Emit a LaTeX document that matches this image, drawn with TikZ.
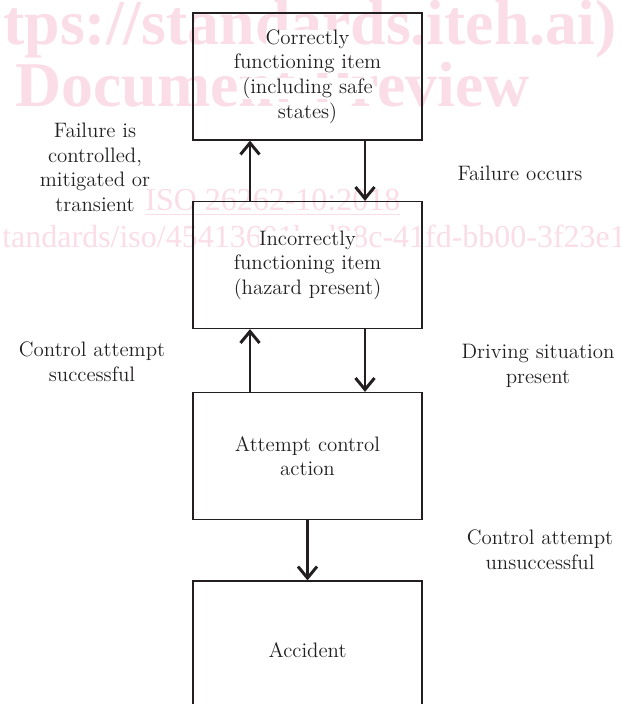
\documentclass[tikz,border=0pt]{standalone}
\usepackage{fontspec}
\usepackage{tikz}
\usetikzlibrary{arrows.meta,positioning}
\newfontfamily\wmfont{Liberation Serif}
\definecolor{wmpink}{HTML}{FADDE6}
\definecolor{ink}{HTML}{231F20}
\newcommand{\onwhite}[1]{{\fboxsep=0pt\colorbox{white}{#1}}}

\begin{document}
\begin{tikzpicture}[
 font=\fontsize{11.9}{14}\selectfont,
 stage/.style={draw=ink,line width=0.7pt,minimum width=4.58cm,minimum height=2.54cm,align=center,inner sep=0pt,text=ink},
 note/.style={align=center,text=ink},
 wmbig/.style={anchor=base west,inner sep=0pt,text=wmpink,font=\wmfont\bfseries\fontsize{36.3}{40}\selectfont},
 wmsmall/.style={anchor=base west,inner sep=0pt,text=wmpink,font=\wmfont\fontsize{18.2}{20}\selectfont},
 arr/.style={-{Straight Barb[length=2.3mm,width=3.8mm]},line width=1.7pt,draw=ink}
]
\clip (0,0) rectangle (12.42,14.08);

% preview watermark
\node[wmbig] (w1) at (0.06,13.18) {tps://standards.iteh.ai)};
\node[wmbig] (w2) at (0.30,11.94) {Document Preview};
\node[wmsmall] (w3) at (2.90,9.86) {\underline{ISO 26262-10:2018}};
\node[wmsmall] (w4) at (0.04,9.12) {tandards/iso/45413601b-d38c-41fd-bb00-3f23e12f};

% states
\node[stage] (s1) at (6.15,12.55) {\onwhite{Correctly}\\\onwhite{functioning item}\\\onwhite{(including safe}\\\onwhite{states)}};
\node[stage] (s2) at (6.15,8.78) {\onwhite{Incorrectly}\\\onwhite{functioning item}\\\onwhite{(hazard present)}};
\node[stage] (s3) at (6.15,4.96) {Attempt control\\action};
\node[stage,minimum height=2.76cm] (s4) at (6.15,1.08) {Accident};

\draw[arr] ([xshift=-1.15cm]s2.north) -- ([xshift=-1.15cm]s1.south);
\draw[arr] ([xshift=1.15cm]s1.south) -- ([xshift=1.15cm]s2.north);
\draw[arr] ([xshift=-1.15cm]s3.north) -- ([xshift=-1.15cm]s2.south);
\draw[arr] ([xshift=1.15cm]s2.south) -- ([xshift=1.15cm]s3.north);
\draw[arr] (s3.south) -- (s4.north);

% transitions
\node[note] (l1) at (1.90,10.73) {Failure is\\controlled,\\mitigated or\\transient};
\node[note] (l2) at (10.40,10.62) {Failure occurs};
\node[note] (l3) at (1.84,6.84) {Control attempt\\successful};
\node[note] (l4) at (10.76,6.76) {Driving situation\\present};
\node[note] (l5) at (10.80,3.08) {Control attempt\\unsuccessful};
\end{tikzpicture}
\end{document}
